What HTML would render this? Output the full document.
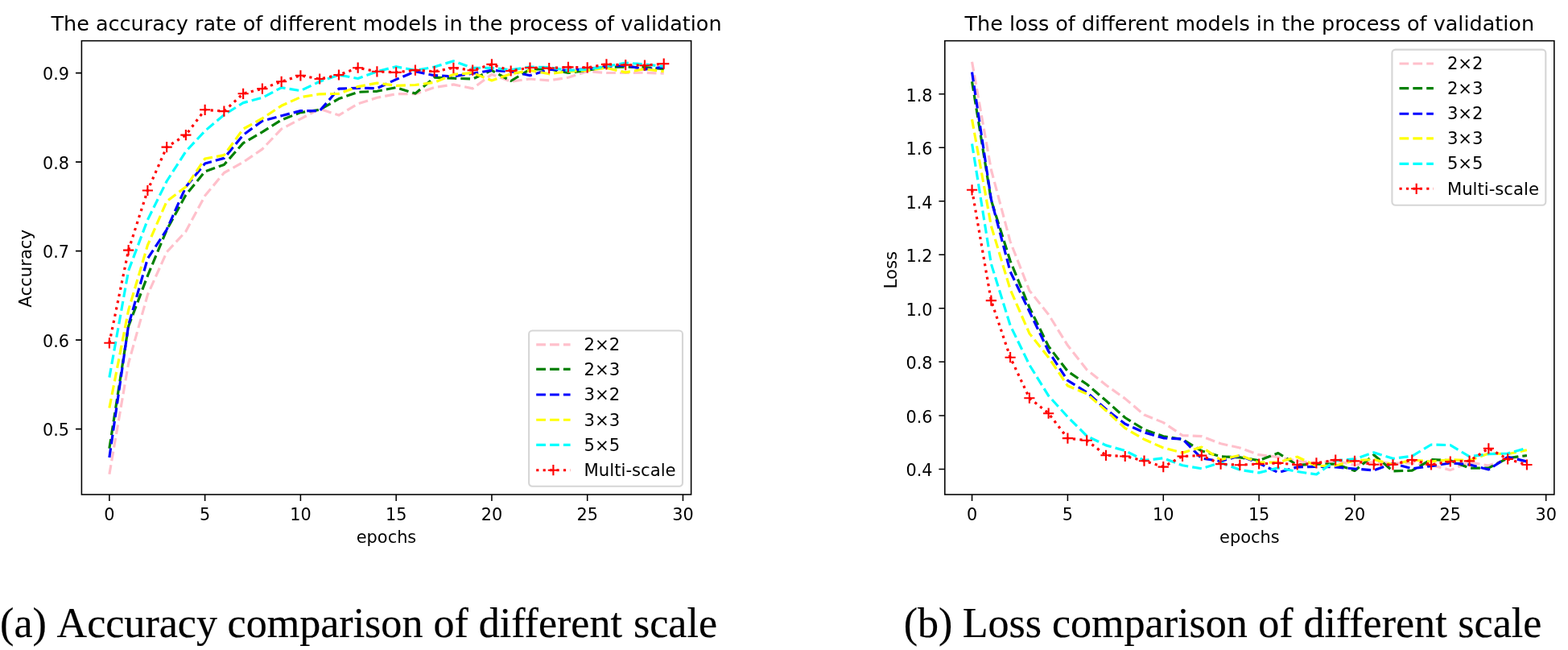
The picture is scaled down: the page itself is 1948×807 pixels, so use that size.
<!DOCTYPE html>
<html lang="en">
<head>
<meta charset="utf-8">
<title>Accuracy and loss comparison of different scale</title>
<style>
html,body{margin:0;padding:0;background:#fff;}
body{width:1948px;height:807px;overflow:hidden;}
svg{display:block;}
</style>
</head>
<body>
<svg width="1948" height="807" viewBox="0 0 1948 807">
<rect width="1948" height="807" fill="#fff"/>
<g font-family="'DejaVu Sans', 'Liberation Sans', sans-serif" font-size="21.2" fill="#000">
<polyline points="135.87,588.8 159.62,451 183.38,366 207.13,313 230.88,287.3 254.63,243 278.39,214.5 302.14,201.3 325.89,185.1 349.65,160.1 373.4,147.6 397.15,135.1 420.91,143.1 444.66,128.8 468.41,121.3 492.17,116.7 515.92,116.7 539.67,108.6 563.42,104.9 587.18,109.9 610.93,92.4 634.68,101.1 658.44,98 682.19,99.9 705.94,96.2 729.7,88.7 753.45,90.5 777.2,90.5 800.95,90.2 824.71,91.2" fill="none" stroke="#ffc0cb" stroke-width="3.18" stroke-dasharray="11.76 5.09" stroke-linejoin="round"/>
<polyline points="135.87,556.8 159.62,405 183.38,342.4 207.13,285.5 230.88,242 254.63,213 278.39,204.5 302.14,177.6 325.89,163.9 349.65,148.9 373.4,139.6 397.15,136.3 420.91,122.6 444.66,114.3 468.41,113.3 492.17,108.6 515.92,116.1 539.67,96.2 563.42,97.2 587.18,98 610.93,87.4 634.68,100.5 658.44,86.2 682.19,85.6 705.94,90.5 729.7,87.4 753.45,83.1 777.2,83.1 800.95,83.7 824.71,85.6" fill="none" stroke="#008000" stroke-width="3.18" stroke-dasharray="11.76 5.09" stroke-linejoin="round"/>
<polyline points="135.87,568 159.62,403.7 183.38,321.2 207.13,285 230.88,232 254.63,203 278.39,196.4 302.14,167.6 325.89,150.1 349.65,143.8 373.4,137.6 397.15,137.6 420.91,110.2 444.66,109.3 468.41,109.6 492.17,98.6 515.92,88.7 539.67,93.7 563.42,94.9 587.18,91.2 610.93,87.4 634.68,88.7 658.44,93.7 682.19,86.2 705.94,87.4 729.7,85.6 753.45,82.4 777.2,81.2 800.95,86.2 824.71,83.1" fill="none" stroke="#0000ff" stroke-width="3.18" stroke-dasharray="11.76 5.09" stroke-linejoin="round"/>
<polyline points="135.87,506.5 159.62,385 183.38,304.5 207.13,250 230.88,232 254.63,197 278.39,192.6 302.14,160.1 325.89,147 349.65,131.3 373.4,120.6 397.15,116.8 420.91,116.3 444.66,107.6 468.41,103.1 492.17,106.4 515.92,105.5 539.67,102.4 563.42,92.4 587.18,90.5 610.93,99.9 634.68,91.8 658.44,87.4 682.19,91.8 705.94,88.7 729.7,87.4 753.45,84.3 777.2,89.9 800.95,85.6 824.71,88.7" fill="none" stroke="#ffff00" stroke-width="3.18" stroke-dasharray="11.76 5.09" stroke-linejoin="round"/>
<polyline points="135.87,468.6 159.62,336 183.38,273 207.13,225 230.88,188 254.63,162.6 278.39,142.6 302.14,127.6 325.89,121.3 349.65,108.8 373.4,112.6 397.15,101.3 420.91,93 444.66,97.5 468.41,88.8 492.17,82.7 515.92,87.4 539.67,83.1 563.42,75.8 587.18,84.3 610.93,84.3 634.68,86.8 658.44,83.1 682.19,83.7 705.94,87.4 729.7,86.2 753.45,82.4 777.2,78.1 800.95,79.9 824.71,82.4" fill="none" stroke="#00ffff" stroke-width="3.18" stroke-dasharray="11.76 5.09" stroke-linejoin="round"/>
<polyline points="135.87,425.8 159.62,310.6 183.38,236.5 207.13,182.6 230.88,167.6 254.63,136.3 278.39,138.1 302.14,116.3 325.89,110.1 349.65,101.3 373.4,93.8 397.15,98 420.91,93 444.66,84.2 468.41,88.8 492.17,89.9 515.92,87.1 539.67,88.7 563.42,84.3 587.18,87.2 610.93,79.9 634.68,88 658.44,84 682.19,84.6 705.94,83.4 729.7,83.9 753.45,79.9 777.2,80.6 800.95,81.2 824.71,79.1" fill="none" stroke="#ff0000" stroke-width="3.18" stroke-dasharray="3.18 5.25" stroke-linejoin="round"/>
<path d="M129.27 425.8h13.2M135.87 419.2v13.2M153.02 310.6h13.2M159.62 304v13.2M176.78 236.5h13.2M183.38 229.9v13.2M200.53 182.6h13.2M207.13 176v13.2M224.28 167.6h13.2M230.88 161v13.2M248.03 136.3h13.2M254.63 129.7v13.2M271.79 138.1h13.2M278.39 131.5v13.2M295.54 116.3h13.2M302.14 109.7v13.2M319.29 110.1h13.2M325.89 103.5v13.2M343.05 101.3h13.2M349.65 94.7v13.2M366.8 93.8h13.2M373.4 87.2v13.2M390.55 98h13.2M397.15 91.4v13.2M414.31 93h13.2M420.91 86.4v13.2M438.06 84.2h13.2M444.66 77.6v13.2M461.81 88.8h13.2M468.41 82.2v13.2M485.56 89.9h13.2M492.17 83.3v13.2M509.32 87.1h13.2M515.92 80.5v13.2M533.07 88.7h13.2M539.67 82.1v13.2M556.82 84.3h13.2M563.42 77.7v13.2M580.58 87.2h13.2M587.18 80.6v13.2M604.33 79.9h13.2M610.93 73.3v13.2M628.08 88h13.2M634.68 81.4v13.2M651.84 84h13.2M658.44 77.4v13.2M675.59 84.6h13.2M682.19 78v13.2M699.34 83.4h13.2M705.94 76.8v13.2M723.1 83.9h13.2M729.7 77.3v13.2M746.85 79.9h13.2M753.45 73.3v13.2M770.6 80.6h13.2M777.2 74v13.2M794.35 81.2h13.2M800.95 74.6v13.2M818.11 79.1h13.2M824.71 72.5v13.2" stroke="#ff0000" stroke-width="2.12" fill="none"/>
<rect x="101.4" y="50.65" width="757.23" height="563.35" fill="none" stroke="#000" stroke-width="1.55"/>
<text x="135.87" y="645.7" text-anchor="middle" font-size="20.8">0</text>
<text x="254.63" y="645.7" text-anchor="middle" font-size="20.8">5</text>
<text x="373.4" y="645.7" text-anchor="middle" font-size="20.8">10</text>
<text x="492.17" y="645.7" text-anchor="middle" font-size="20.8">15</text>
<text x="610.93" y="645.7" text-anchor="middle" font-size="20.8">20</text>
<text x="729.7" y="645.7" text-anchor="middle" font-size="20.8">25</text>
<text x="848.46" y="645.7" text-anchor="middle" font-size="20.8">30</text>
<text x="86.1" y="99.4" text-anchor="end" font-size="20.8">0.9</text>
<text x="86.1" y="209.9" text-anchor="end" font-size="20.8">0.8</text>
<text x="86.1" y="320.4" text-anchor="end" font-size="20.8">0.7</text>
<text x="86.1" y="430.9" text-anchor="end" font-size="20.8">0.6</text>
<text x="86.1" y="541.4" text-anchor="end" font-size="20.8">0.5</text>
<path d="M135.87 614v8.1M254.63 614v8.1M373.4 614v8.1M492.17 614v8.1M610.93 614v8.1M729.7 614v8.1M848.46 614v8.1M101.4 90.6h-7.4M101.4 201.1h-7.4M101.4 311.6h-7.4M101.4 422.1h-7.4M101.4 532.6h-7.4" stroke="#000" stroke-width="1.55" fill="none"/>
<text x="480.01" y="674.4" text-anchor="middle" font-size="20.9">epochs</text>
<text transform="translate(39.4 333.32) rotate(-90)" text-anchor="middle">Accuracy</text>
<text x="480.01" y="38.3" text-anchor="middle" font-size="25.47">The accuracy rate of different models in the process of validation</text>
<rect x="657.1" y="410.5" width="190.9" height="193.2" rx="4.2" ry="4.2" fill="#fff" fill-opacity="0.8" stroke="#ccc" stroke-opacity="0.8" stroke-width="2.12"/>
<path d="M666.2 427.9H708.6" fill="none" stroke="#ffc0cb" stroke-width="3.1" stroke-dasharray="11.76 5.09"/>
<text x="725.6" y="435">2×2</text>
<path d="M666.2 458.4H708.6" fill="none" stroke="#008000" stroke-width="3.1" stroke-dasharray="11.76 5.09"/>
<text x="725.6" y="466">2×3</text>
<path d="M666.2 490H708.6" fill="none" stroke="#0000ff" stroke-width="3.1" stroke-dasharray="11.76 5.09"/>
<text x="725.6" y="497">3×2</text>
<path d="M666.2 521.3H708.6" fill="none" stroke="#ffff00" stroke-width="3.1" stroke-dasharray="11.76 5.09"/>
<text x="725.6" y="529">3×3</text>
<path d="M666.2 552.4H708.6" fill="none" stroke="#00ffff" stroke-width="3.1" stroke-dasharray="11.76 5.09"/>
<text x="725.6" y="560">5×5</text>
<path d="M666.2 583.7H708.6" fill="none" stroke="#ff0000" stroke-width="3.1" stroke-dasharray="3.18 5.25"/>
<path d="M680.8 583.7h13.2M687.4 577.1v13.2" stroke="#ff0000" stroke-width="2.12" fill="none"/>
<text x="725.6" y="591">Multi-scale</text>
</g>
<g font-family="'DejaVu Sans', 'Liberation Sans', sans-serif" font-size="21.2" fill="#000">
<polyline points="1207.57,76.8 1231.34,210.5 1255.11,300 1278.88,360.7 1302.65,390.4 1326.42,428.8 1350.19,459 1373.96,478 1397.73,494.9 1421.5,515 1445.27,524.6 1469.04,540.6 1492.81,541.7 1516.58,550.8 1540.35,556 1564.12,564.7 1587.89,567.4 1611.66,572.4 1635.43,574.9 1659.2,571.8 1682.97,577.4 1706.74,573.6 1730.51,575 1754.28,575 1778.05,577.4 1801.82,583.6 1825.59,574 1849.36,578 1873.13,570 1896.9,566" fill="none" stroke="#ffc0cb" stroke-width="3.18" stroke-dasharray="11.76 5.09" stroke-linejoin="round"/>
<polyline points="1207.57,101.2 1231.34,248.5 1255.11,324 1278.88,381.7 1302.65,430 1326.42,461 1350.19,477 1373.96,497.3 1397.73,518.5 1421.5,533.3 1445.27,541.7 1469.04,545.5 1492.81,559.8 1516.58,566.8 1540.35,567.9 1564.12,571.7 1587.89,562.5 1611.66,577.4 1635.43,576.1 1659.2,576.1 1682.97,584.5 1706.74,564.7 1730.51,584.9 1754.28,584.2 1778.05,570.5 1801.82,571.8 1825.59,581.1 1849.36,581.1 1873.13,568.7 1896.9,565.5" fill="none" stroke="#008000" stroke-width="3.18" stroke-dasharray="11.76 5.09" stroke-linejoin="round"/>
<polyline points="1207.57,89.6 1231.34,247.5 1255.11,337.2 1278.88,386.7 1302.65,436.2 1326.42,472.4 1350.19,487 1373.96,508 1397.73,526.3 1421.5,536.8 1445.27,543.8 1469.04,545 1492.81,569.1 1516.58,572.6 1540.35,565.8 1564.12,575.2 1587.89,586.6 1611.66,579.9 1635.43,579.3 1659.2,579.9 1682.97,582 1706.74,583.9 1730.51,575.5 1754.28,581.8 1778.05,578.6 1801.82,574.9 1825.59,576.8 1849.36,583 1873.13,567.4 1896.9,573" fill="none" stroke="#0000ff" stroke-width="3.18" stroke-dasharray="11.76 5.09" stroke-linejoin="round"/>
<polyline points="1207.57,148.1 1231.34,280.5 1255.11,359.4 1278.88,413.9 1302.65,443.7 1326.42,479 1350.19,489 1373.96,509.7 1397.73,531.6 1421.5,545.5 1445.27,556 1469.04,562.1 1492.81,555.1 1516.58,570.8 1540.35,565.3 1564.12,574.2 1587.89,574 1611.66,567.2 1635.43,578.6 1659.2,578 1682.97,571.8 1706.74,570.5 1730.51,576.8 1754.28,571.1 1778.05,573 1801.82,570.7 1825.59,571.8 1849.36,563 1873.13,563.7 1896.9,558.7" fill="none" stroke="#ffff00" stroke-width="3.18" stroke-dasharray="11.76 5.09" stroke-linejoin="round"/>
<polyline points="1207.57,178.4 1231.34,327.5 1255.11,404 1278.88,453 1302.65,491.4 1326.42,517.6 1350.19,541.2 1373.96,552.9 1397.73,559.5 1421.5,571.7 1445.27,568.7 1469.04,577.8 1492.81,581.8 1516.58,574.3 1540.35,583.3 1564.12,586.9 1587.89,580.9 1611.66,585.5 1635.43,589 1659.2,571.8 1682.97,569.9 1706.74,561.8 1730.51,569.3 1754.28,566.2 1778.05,552 1801.82,552.7 1825.59,566.8 1849.36,563.7 1873.13,563 1896.9,556.2" fill="none" stroke="#00ffff" stroke-width="3.18" stroke-dasharray="11.76 5.09" stroke-linejoin="round"/>
<polyline points="1207.57,235.8 1231.34,373.1 1255.11,443.7 1278.88,494.2 1302.65,513.2 1326.42,544.1 1350.19,546.8 1373.96,565.3 1397.73,566.5 1421.5,572.2 1445.27,579.6 1469.04,566.5 1492.81,565.6 1516.58,576.1 1540.35,577.3 1564.12,576 1587.89,574.9 1611.66,577 1635.43,574.9 1659.2,571.1 1682.97,572.4 1706.74,576.8 1730.51,576.8 1754.28,571 1778.05,576.9 1801.82,573 1825.59,572.4 1849.36,556.8 1873.13,569.9 1896.9,577" fill="none" stroke="#ff0000" stroke-width="3.18" stroke-dasharray="3.18 5.25" stroke-linejoin="round"/>
<path d="M1200.97 235.8h13.2M1207.57 229.2v13.2M1224.74 373.1h13.2M1231.34 366.5v13.2M1248.51 443.7h13.2M1255.11 437.1v13.2M1272.28 494.2h13.2M1278.88 487.6v13.2M1296.05 513.2h13.2M1302.65 506.6v13.2M1319.82 544.1h13.2M1326.42 537.5v13.2M1343.59 546.8h13.2M1350.19 540.2v13.2M1367.36 565.3h13.2M1373.96 558.7v13.2M1391.13 566.5h13.2M1397.73 559.9v13.2M1414.9 572.2h13.2M1421.5 565.6v13.2M1438.67 579.6h13.2M1445.27 573v13.2M1462.44 566.5h13.2M1469.04 559.9v13.2M1486.21 565.6h13.2M1492.81 559v13.2M1509.98 576.1h13.2M1516.58 569.5v13.2M1533.75 577.3h13.2M1540.35 570.7v13.2M1557.52 576h13.2M1564.12 569.4v13.2M1581.29 574.9h13.2M1587.89 568.3v13.2M1605.06 577h13.2M1611.66 570.4v13.2M1628.83 574.9h13.2M1635.43 568.3v13.2M1652.6 571.1h13.2M1659.2 564.5v13.2M1676.37 572.4h13.2M1682.97 565.8v13.2M1700.14 576.8h13.2M1706.74 570.2v13.2M1723.91 576.8h13.2M1730.51 570.2v13.2M1747.68 571h13.2M1754.28 564.4v13.2M1771.45 576.9h13.2M1778.05 570.3v13.2M1795.22 573h13.2M1801.82 566.4v13.2M1818.99 572.4h13.2M1825.59 565.8v13.2M1842.76 556.8h13.2M1849.36 550.2v13.2M1866.53 569.9h13.2M1873.13 563.3v13.2M1890.3 577h13.2M1896.9 570.4v13.2" stroke="#ff0000" stroke-width="2.12" fill="none"/>
<rect x="1173.8" y="50.65" width="757.04" height="563.35" fill="none" stroke="#000" stroke-width="1.55"/>
<text x="1207.57" y="645.7" text-anchor="middle" font-size="20.8">0</text>
<text x="1326.42" y="645.7" text-anchor="middle" font-size="20.8">5</text>
<text x="1445.27" y="645.7" text-anchor="middle" font-size="20.8">10</text>
<text x="1564.12" y="645.7" text-anchor="middle" font-size="20.8">15</text>
<text x="1682.97" y="645.7" text-anchor="middle" font-size="20.8">20</text>
<text x="1801.82" y="645.7" text-anchor="middle" font-size="20.8">25</text>
<text x="1920.67" y="645.7" text-anchor="middle" font-size="20.8">30</text>
<text x="1158.5" y="125.5" text-anchor="end" font-size="20.8">1.8</text>
<text x="1158.5" y="192" text-anchor="end" font-size="20.8">1.6</text>
<text x="1158.5" y="258.6" text-anchor="end" font-size="20.8">1.4</text>
<text x="1158.5" y="325.1" text-anchor="end" font-size="20.8">1.2</text>
<text x="1158.5" y="391.6" text-anchor="end" font-size="20.8">1.0</text>
<text x="1158.5" y="458.1" text-anchor="end" font-size="20.8">0.8</text>
<text x="1158.5" y="524.7" text-anchor="end" font-size="20.8">0.6</text>
<text x="1158.5" y="591.2" text-anchor="end" font-size="20.8">0.4</text>
<path d="M1207.57 614v8.1M1326.42 614v8.1M1445.27 614v8.1M1564.12 614v8.1M1682.97 614v8.1M1801.82 614v8.1M1920.67 614v8.1M1173.8 116.7h-7.4M1173.8 183.2h-7.4M1173.8 249.8h-7.4M1173.8 316.3h-7.4M1173.8 382.8h-7.4M1173.8 449.3h-7.4M1173.8 515.9h-7.4M1173.8 582.4h-7.4" stroke="#000" stroke-width="1.55" fill="none"/>
<text x="1552.32" y="674.4" text-anchor="middle" font-size="20.9">epochs</text>
<text transform="translate(1113.5 335.22) rotate(-90)" text-anchor="middle">Loss</text>
<text x="1552.32" y="38.3" text-anchor="middle" font-size="25.47">The loss of different models in the process of validation</text>
<rect x="1729.4" y="61.6" width="190.9" height="193.2" rx="4.2" ry="4.2" fill="#fff" fill-opacity="0.8" stroke="#ccc" stroke-opacity="0.8" stroke-width="2.12"/>
<path d="M1738.5 79H1780.9" fill="none" stroke="#ffc0cb" stroke-width="3.1" stroke-dasharray="11.76 5.09"/>
<text x="1797.9" y="86">2×2</text>
<path d="M1738.5 109.6H1780.9" fill="none" stroke="#008000" stroke-width="3.1" stroke-dasharray="11.76 5.09"/>
<text x="1797.9" y="117">2×3</text>
<path d="M1738.5 141.3H1780.9" fill="none" stroke="#0000ff" stroke-width="3.1" stroke-dasharray="11.76 5.09"/>
<text x="1797.9" y="148">3×2</text>
<path d="M1738.5 171.9H1780.9" fill="none" stroke="#ffff00" stroke-width="3.1" stroke-dasharray="11.76 5.09"/>
<text x="1797.9" y="179">3×3</text>
<path d="M1738.5 203.4H1780.9" fill="none" stroke="#00ffff" stroke-width="3.1" stroke-dasharray="11.76 5.09"/>
<text x="1797.9" y="210">5×5</text>
<path d="M1738.5 234.3H1780.9" fill="none" stroke="#ff0000" stroke-width="3.1" stroke-dasharray="3.18 5.25"/>
<path d="M1753.1 234.3h13.2M1759.7 227.7v13.2" stroke="#ff0000" stroke-width="2.12" fill="none"/>
<text x="1797.9" y="242">Multi-scale</text>
</g>
<text y="791.2" font-family="'Liberation Serif', 'Times New Roman', serif" font-size="53" fill="#000" stroke="#000" stroke-width="0.2"><tspan x="0.05" textLength="57.77" lengthAdjust="spacingAndGlyphs">(a)</tspan> <tspan x="70.59" textLength="199.38" lengthAdjust="spacingAndGlyphs">Accuracy</tspan> <tspan x="282.59" textLength="242.83" lengthAdjust="spacingAndGlyphs">comparison</tspan> <tspan x="538.48" textLength="43.36" lengthAdjust="spacingAndGlyphs">of</tspan> <tspan x="594.69" textLength="178.23" lengthAdjust="spacingAndGlyphs">different</tspan> <tspan x="787.01" textLength="104.03" lengthAdjust="spacingAndGlyphs">scale</tspan></text>
<text y="791.2" font-family="'Liberation Serif', 'Times New Roman', serif" font-size="53" fill="#000" stroke="#000" stroke-width="0.2"><tspan x="1122.65" textLength="60.7" lengthAdjust="spacingAndGlyphs">(b)</tspan> <tspan x="1195.79" textLength="98.34" lengthAdjust="spacingAndGlyphs">Loss</tspan> <tspan x="1306.99" textLength="242.83" lengthAdjust="spacingAndGlyphs">comparison</tspan> <tspan x="1563.18" textLength="43.36" lengthAdjust="spacingAndGlyphs">of</tspan> <tspan x="1619.39" textLength="178.23" lengthAdjust="spacingAndGlyphs">different</tspan> <tspan x="1811.31" textLength="104.03" lengthAdjust="spacingAndGlyphs">scale</tspan></text>
</svg>
</body>
</html>
